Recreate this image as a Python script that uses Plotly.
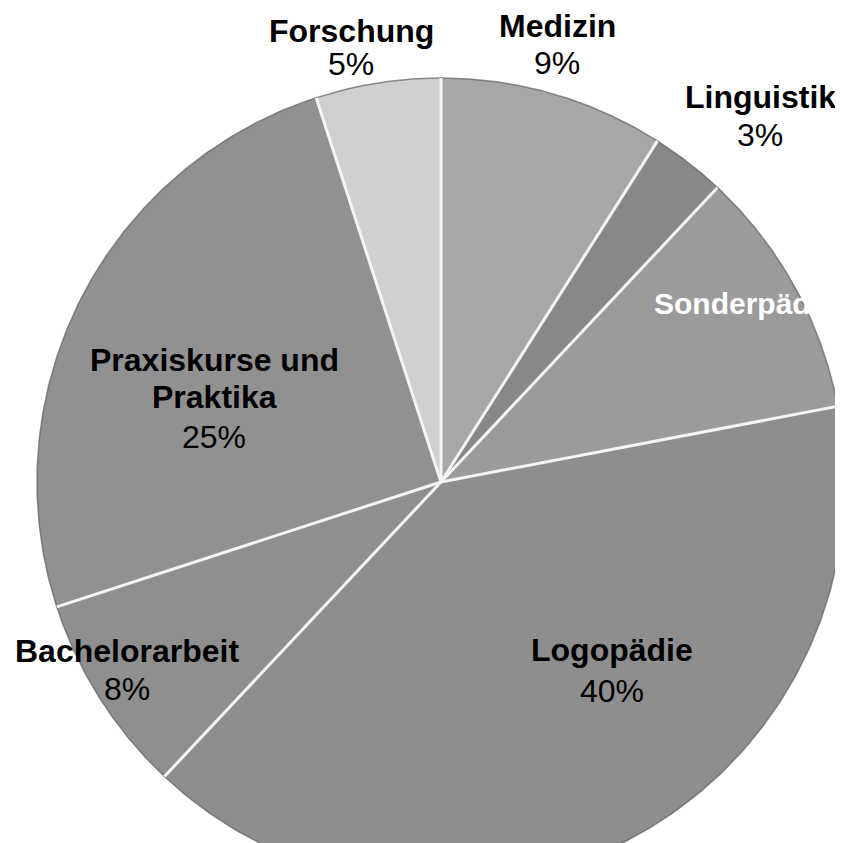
import numpy as np
import plotly.graph_objects as go

categories = ["Medizin", "Linguistik", "Sonderpädagogik", "Logopädie",
              "Bachelorarbeit", "Praxiskurse und Praktika", "Forschung"]
values = [9, 3, 10, 40, 8, 25, 5]
pct_labels = ["9%", "3%", "10%", "40%", "8%", "25%", "5%"]
colors = ["#a7a7a7", "#888888", "#9b9b9b", "#8e8e8e", "#8f8f8f", "#919191", "#d0d0d0"]

W = H = 843
M = 8  # default page body margin
CX, CY, R = 441 - M, 482 - M, 404  # pie centre / radius in figure pixels

fig = go.Figure()
total = float(sum(values))
cum = np.concatenate([[0], np.cumsum(values)]) / total * 2 * np.pi

for i, cat in enumerate(categories):
    th = np.linspace(cum[i], cum[i + 1], 200)
    xs = np.concatenate([[0], np.sin(th), [0]])
    ys = np.concatenate([[0], np.cos(th), [0]])
    fig.add_trace(go.Scatter(x=xs, y=ys, mode="lines", fill="toself",
                             fillcolor=colors[i],
                             line=dict(color="rgba(95,95,95,0.7)", width=1.5),
                             name=cat, hoverinfo="name", showlegend=False))

# light separators between slices
for a in cum[:-1]:
    fig.add_trace(go.Scatter(x=[0, np.sin(a)], y=[0, np.cos(a)], mode="lines",
                             line=dict(color="#f4f4f4", width=3),
                             hoverinfo="skip", showlegend=False))


def px(x, y):
    """page pixel -> data units"""
    return (x - M - CX) / R, (CY - (y - M)) / R


FONT = "Liberation Sans, Arial"
FS = 32


def label(x, y, text, color="black", size=FS, family=FONT, xanchor="center"):
    ax, ay = px(x, y)
    fig.add_annotation(x=ax, y=ay, text=text, showarrow=False, xanchor=xanchor,
                       font=dict(family=family, size=size, color=color))


label_pos = {
    "Medizin": (557, 26, 63),
    "Linguistik": (760, 97, 135),
    "Logopädie": (612, 650, 691),
    "Bachelorarbeit": (127, 651, 689),
    "Forschung": (351, 31, 64),
}
for i, cat in enumerate(categories):
    if cat in label_pos:
        x, y1, y2 = label_pos[cat]
        label(x, y1, "<b>" + cat + "</b>")
        label(x, y2, pct_labels[i])

# Praxiskurse (two-line name)
label(214, 360, "<b>Praxiskurse und</b>")
label(214, 397, "<b>Praktika</b>")
label(214, 437, pct_labels[5])

# Sonderpädagogik: white label cut off at the pie rim
label(652, 303, "<b>" + categories[2][:10] + "</b>", color="white", size=30,
      xanchor="left")

fig.update_xaxes(range=[-CX / R, (W - CX) / R], visible=False, fixedrange=True)
fig.update_yaxes(range=[-(H - CY) / R, CY / R], visible=False, fixedrange=True)
fig.update_layout(width=W, height=H, margin=dict(l=0, r=0, t=0, b=0),
                  plot_bgcolor="white", paper_bgcolor="white")

fig.write_html("out.html")
